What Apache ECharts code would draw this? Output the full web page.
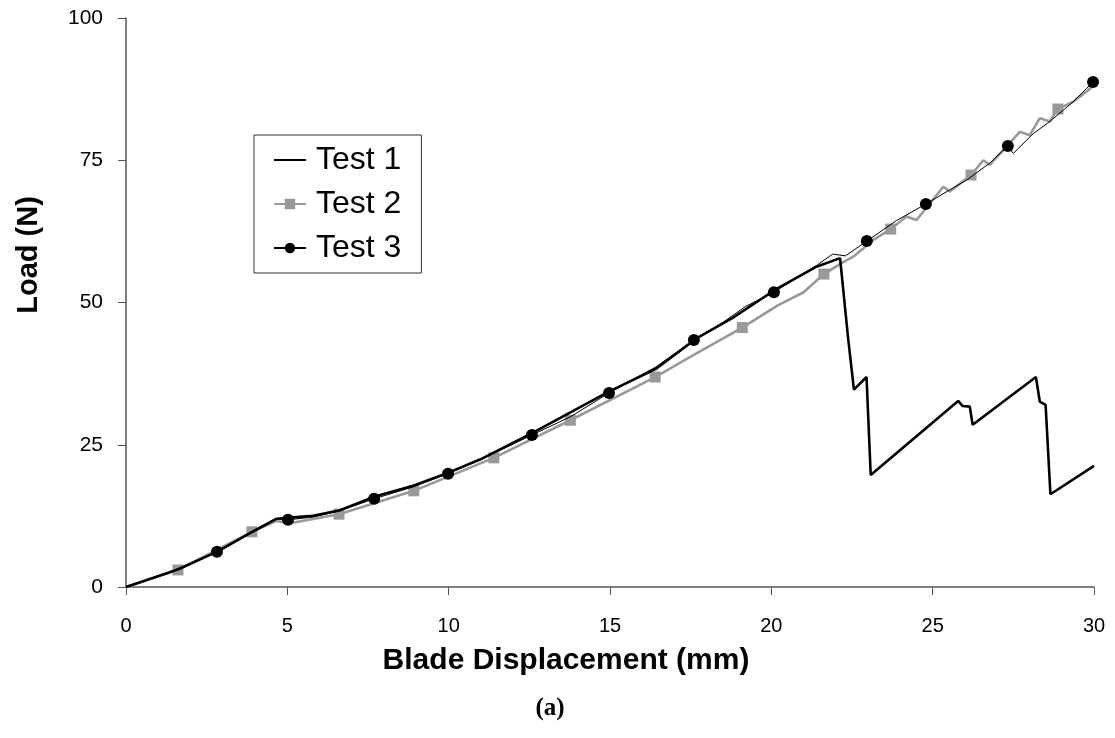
<!DOCTYPE html>
<html>
<head>
<meta charset="utf-8">
<script src="https://cdn.jsdelivr.net/npm/echarts@6/dist/echarts.min.js"></script>
<style>
  html, body { margin: 0; padding: 0; background: #fff; }
  #main { width: 1115px; height: 738px; }
</style>
</head>
<body>
<div id="main"></div>
<script>
// x: blade displacement (mm), y: load (N)
var test1 = [[0,0],[1.62,3.1],[2.86,6.3],[3.95,9.8],[4.67,12.0],[5.08,12.2],[5.8,12.5],[6.63,13.5],
  [7.66,15.8],[8.9,17.8],[9.99,20.1],[10.97,22.4],[12.57,27.0],[14.95,34.3],[16.44,38.4],[17.68,43.7],
  [18.8,47.3],[20.11,52.2],[21.4,56.3],[22.13,57.8],[22.18,57.5],[22.38,43.7],[22.43,43.5],[22.56,34.7],
  [22.95,36.9],[23.08,19.7],[25.79,32.7],[25.93,31.8],[26.15,31.7],[26.24,28.5],[28.2,36.9],[28.32,32.6],
  [28.5,32.0],[28.65,16.3],[30,21.3]];

var test2 = [[0,0],[1.61,3.0],[3.9,9.7],[4.65,11.6],[5.08,11.2],[6.6,12.8],[8.92,16.9],[11.4,22.7],
  [13.77,29.3],[16.4,36.9],[17.5,40.5],[19.1,45.6],[20.2,49.5],[21.0,51.8],[21.63,55.0],[22.2,57.0],
  [22.54,58.05],[23.16,61.0],[23.7,62.9],[24.19,65.1],[24.5,64.5],[25.33,70.35],[25.53,69.5],[26.19,72.4],
  [26.57,75.0],[26.77,74.2],[27.7,80.0],[28.01,79.4],[28.32,82.4],[28.63,81.8],[28.88,84.0],[29.36,85.3],
  [29.82,87.3],[30,88.3]];
var test2Marks = [1.61, 3.9, 6.6, 8.92, 11.4, 13.77, 16.4, 19.1, 21.63, 23.7, 26.19, 28.88];

var test3 = [[0,0],[1.5,3.0],[2.82,6.2],[3.95,9.8],[4.65,12.0],[5.02,11.8],[5.8,12.3],[6.63,13.4],
  [7.69,15.5],[8.9,17.6],[9.98,19.9],[11.0,22.4],[12.58,26.7],[13.8,30.0],[14.97,34.1],[16.4,38.6],
  [17.6,43.4],[18.5,46.5],[19.2,49.3],[20.08,51.8],[20.8,54.4],[21.4,56.5],[21.9,58.5],[22.3,58.2],
  [22.96,60.8],[23.88,64.4],[24.79,67.3],[25.53,69.8],[26.05,71.5],[26.77,74.5],[27.33,77.5],[27.5,76.2],
  [28.12,79.7],[28.63,81.8],[29.36,85.3],[29.97,88.75]];
var test3Marks = [2.82, 5.02, 7.69, 9.98, 12.58, 14.97, 17.6, 20.08, 22.96, 24.79, 27.33, 29.97];

var xTicks = [0, 5, 10, 15, 20, 25, 30];
var yTicks = [0, 25, 50, 75, 100];

function withMarks(points, marks) {
  return points.map(function (p) {
    if (marks.indexOf(p[0]) >= 0) return { value: p };
    return { value: p, symbol: 'none' };
  });
}

var chart = echarts.init(document.getElementById('main'));
chart.setOption({
  backgroundColor: '#fff',
  animation: false,
  textStyle: { fontFamily: 'Liberation Sans, Arial, sans-serif' },
  grid: { left: 126, right: 21, top: 18, bottom: 151 },
  legend: {
    orient: 'vertical',
    left: 254, top: 135,
    padding: [9, 20, 9, 19],
    borderColor: '#333', borderWidth: 1,
    itemWidth: 32, itemHeight: 13, itemGap: 12,
    textStyle: { fontSize: 32, color: '#000', fontFamily: 'Liberation Sans, Arial', padding: [0, 0, 0, 5] },
    data: [
      { name: 'Test 1', itemStyle: { opacity: 0 } },
      { name: 'Test 2' },
      { name: 'Test 3' }
    ]
  },
  xAxis: {
    type: 'value',
    min: xTicks[0], max: xTicks[xTicks.length - 1], interval: 5,
    splitLine: { show: false },
    axisLine: { lineStyle: { color: '#555', width: 1.5 } },
    axisTick: { show: true, length: 8, lineStyle: { color: '#555' } },
    axisLabel: { fontSize: 20, color: '#000', margin: 29 }
  },
  yAxis: {
    type: 'value',
    min: yTicks[0], max: yTicks[yTicks.length - 1], interval: 25,
    splitLine: { show: false },
    axisLine: { show: true, lineStyle: { color: '#555', width: 1.5 } },
    axisTick: { show: true, length: 8, lineStyle: { color: '#555' } },
    axisLabel: { fontSize: 21, color: '#000', margin: 23 }
  },
  graphic: [
    { type: 'text', x: 566, y: 661,
      style: { text: 'Blade Displacement (mm)', font: 'bold 30px "Liberation Sans", Arial', fill: '#000',
        align: 'center', verticalAlign: 'middle' } },
    { type: 'text', x: 29, y: 255, rotation: Math.PI / 2,
      style: { text: 'Load (N)', font: 'bold 29px "Liberation Sans", Arial', fill: '#000',
        align: 'center', verticalAlign: 'middle' } },
    { type: 'text', x: 550, y: 709,
      style: { text: '(a)', font: 'bold 25px "Liberation Serif", "Times New Roman"', fill: '#000',
        align: 'center', verticalAlign: 'middle' } }
  ],
  series: [
    {
      name: 'Test 1', type: 'line', data: test1, symbol: 'none',
      lineStyle: { color: '#000', width: 2.6 }, itemStyle: { color: '#000' }, z: 3
    },
    {
      name: 'Test 2', type: 'line', data: withMarks(test2, test2Marks),
      symbol: 'rect', symbolSize: 11,
      lineStyle: { color: '#999', width: 2.6 }, itemStyle: { color: '#999' }, z: 2
    },
    {
      name: 'Test 3', type: 'line', data: withMarks(test3, test3Marks),
      symbol: 'circle', symbolSize: 12,
      lineStyle: { color: '#000', width: 1 }, itemStyle: { color: '#000' }, z: 4
    }
  ]
});
</script>
</body>
</html>
